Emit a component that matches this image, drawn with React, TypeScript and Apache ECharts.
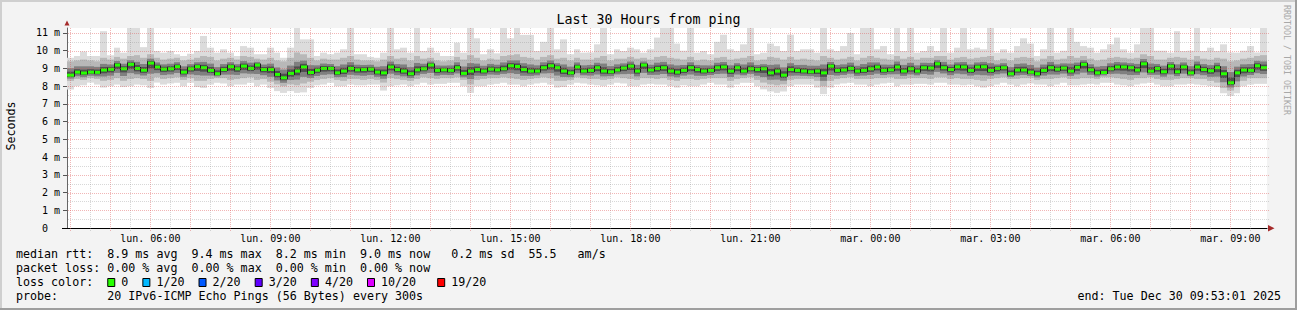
import React, { useEffect, useRef } from "react";
import * as echarts from "echarts";

// ---------- data ----------
const START_MIN = 235; // minutes after Monday 00:00 (left edge of the plot)
const STEP_MIN = 10; // minutes per consolidated sample
const SPAN_MIN = 1800; // 30 hours
const Y_MAX = 11.28;

// median rtt in ms (green step line)
const MEDIAN = [
  8.62, 8.79, 8.74, 8.79, 8.78, 8.91, 8.95, 9.19, 8.98, 9.23, 9.0, 8.9, 9.3, 9.08, 8.96, 8.98, 9.1, 8.79, 8.98, 9.1, 9.04, 8.89, 8.7, 8.94, 9.1, 8.98, 9.13, 9.0, 9.19, 8.94, 8.94, 8.66, 8.47, 8.72, 8.85, 9.08, 8.77, 8.9, 9.0, 9.0, 8.75, 8.85, 9.0, 8.92, 8.94,
  8.96, 8.79, 8.75, 9.08, 8.94, 8.85, 8.7, 8.92, 8.98, 9.19, 8.89, 8.92, 8.89, 9.04, 8.72, 8.85, 8.94, 8.85, 8.96, 8.92, 8.98, 9.15, 9.11, 8.94, 8.85, 8.85, 9.04, 9.15, 9.04, 8.85, 8.75, 9.08, 8.85, 8.89, 9.04, 8.85, 8.81, 8.91, 9.02, 9.13, 8.85, 9.19, 8.91, 9.0, 9.04,
  8.85, 8.79, 8.89, 9.04, 8.94, 8.85, 8.89, 9.04, 9.08, 8.85, 9.04, 8.85, 8.98, 8.94, 8.98, 8.75, 8.85, 8.62, 8.94, 8.89, 8.85, 8.81, 8.85, 8.75, 9.13, 8.89, 8.91, 9.0, 8.85, 8.89, 8.98, 9.08, 8.89, 8.92, 9.08, 8.85, 8.98, 8.85, 9.04, 9.02, 9.26, 9.04, 8.94, 9.09, 9.08,
  8.89, 9.08, 9.09, 8.89, 9.0, 9.04, 8.7, 8.91, 8.91, 8.79, 8.7, 8.89, 9.04, 8.96, 9.02, 8.85, 9.06, 9.23, 8.92, 8.75, 8.77, 8.98, 9.08, 9.08, 9.04, 8.91, 9.26, 8.85, 9.0, 8.81, 9.13, 8.81, 9.08, 8.75, 9.08, 8.94, 8.87, 9.04, 8.7, 8.19, 8.75, 8.91, 8.89, 9.15, 9.04,
];

// slowest ping of each sample (top of the light smoke)
const MAX = [
  9.6, 9.7, 9.95, 9.7, 9.7, 11.1, 9.74, 10.17, 9.89, 11.38, 11.38, 10.2, 11.38, 9.98, 9.89, 9.98, 9.8, 9.7, 9.83, 9.98, 10.83, 10.17, 9.89, 10.08, 9.89, 9.7, 10.26, 10.17, 9.8, 9.8, 10.17, 9.89, 9.6, 10.17, 11.38, 10.64, 10.64, 9.7, 9.89, 9.8, 9.89, 10.08, 11.38, 9.8, 9.8,
  9.65, 9.6, 9.89, 11.3, 10.08, 10.17, 9.89, 11.3, 9.98, 10.17, 9.89, 9.7, 9.7, 10.45, 9.89, 11.3, 10.7, 9.8, 10.08, 9.85, 11.3, 10.7, 11.3, 10.89, 10.89, 9.98, 10.5, 11.3, 10.08, 10.64, 9.8, 10.08, 9.89, 9.9, 10.36, 11.3, 9.8, 10.08, 9.98, 10.17, 10.08, 9.89, 10.08, 10.74, 11.3,
  11.3, 10.4, 10.0, 11.3, 9.89, 9.98, 9.8, 10.5, 10.9, 10.08, 9.98, 10.36, 11.3, 9.8, 9.89, 10.4, 10.26, 9.98, 10.9, 9.98, 10.08, 10.08, 9.89, 11.3, 10.08, 9.98, 10.26, 11.0, 9.8, 11.3, 11.3, 10.08, 10.26, 9.8, 11.3, 9.98, 11.3, 9.89, 9.98, 10.26, 9.98, 11.3, 9.89, 10.17, 11.3,
  10.08, 10.17, 10.08, 11.3, 9.89, 10.08, 9.89, 10.26, 10.7, 10.4, 9.7, 10.08, 11.3, 9.89, 10.0, 11.3, 10.5, 10.26, 10.17, 9.89, 10.08, 10.36, 10.74, 10.08, 9.89, 10.36, 11.3, 11.3, 10.0, 10.0, 9.89, 11.1, 9.98, 10.0, 11.3, 9.98, 10.17, 9.98, 10.36, 9.9, 9.89, 10.0, 10.26, 9.9, 11.3,
];

// upper edge of the medium smoke
const HI = [
  9.4, 9.45, 9.5, 9.45, 9.4, 9.6, 9.5, 9.65, 9.55, 9.7, 9.75, 9.6, 9.8, 9.6, 9.5, 9.55, 9.6, 9.45, 9.5, 9.6, 9.7, 9.65, 9.45, 9.55, 9.6, 9.5, 9.7, 9.65, 9.55, 9.5, 9.6, 9.45, 9.4, 9.6, 9.9, 9.8, 9.6, 9.45, 9.55, 9.5, 9.5, 9.6, 9.7, 9.5, 9.45,
  9.45, 9.4, 9.5, 9.7, 9.55, 9.6, 9.45, 9.7, 9.55, 9.6, 9.45, 9.4, 9.45, 9.65, 9.5, 9.75, 9.6, 9.45, 9.55, 9.5, 9.7, 9.75, 9.8, 9.65, 9.6, 9.5, 9.65, 9.75, 9.55, 9.6, 9.45, 9.6, 9.5, 9.5, 9.6, 9.7, 9.45, 9.55, 9.55, 9.65, 9.55, 9.6, 9.5, 9.65, 9.7,
  9.6, 9.55, 9.5, 9.65, 9.45, 9.5, 9.45, 9.6, 9.65, 9.5, 9.55, 9.6, 9.7, 9.45, 9.5, 9.65, 9.6, 9.5, 9.65, 9.5, 9.55, 9.5, 9.45, 9.7, 9.6, 9.5, 9.55, 9.65, 9.45, 9.6, 9.7, 9.6, 9.55, 9.5, 9.7, 9.55, 9.65, 9.5, 9.6, 9.6, 9.7, 9.7, 9.5, 9.6, 9.65,
  9.55, 9.6, 9.65, 9.7, 9.45, 9.55, 9.45, 9.6, 9.65, 9.6, 9.4, 9.55, 9.7, 9.5, 9.55, 9.7, 9.6, 9.7, 9.55, 9.45, 9.5, 9.6, 9.65, 9.6, 9.55, 9.6, 9.8, 9.7, 9.5, 9.5, 9.6, 9.65, 9.6, 9.5, 9.7, 9.55, 9.5, 9.6, 9.55, 9.4, 9.45, 9.55, 9.6, 9.7, 9.75,
];

// lower edge of the medium smoke
const LO = [
  8.3, 8.4, 8.35, 8.45, 8.4, 8.3, 8.35, 8.45, 8.3, 8.4, 8.45, 8.4, 8.3, 8.5, 8.4, 8.45, 8.5, 8.35, 8.45, 8.3, 8.3, 8.4, 8.45, 8.45, 8.35, 8.4, 8.45, 8.5, 8.35, 8.4, 8.25, 8.1, 8.0, 8.1, 8.05, 8.15, 8.25, 8.35, 8.4, 8.45, 8.35, 8.3, 8.4, 8.4, 8.35,
  8.4, 8.35, 8.2, 8.45, 8.4, 8.35, 8.3, 8.4, 8.5, 8.45, 8.4, 8.45, 8.45, 8.5, 8.35, 8.1, 8.35, 8.4, 8.45, 8.45, 8.5, 8.45, 8.4, 8.35, 8.4, 8.45, 8.5, 8.45, 8.3, 8.3, 8.35, 8.5, 8.45, 8.4, 8.4, 8.35, 8.4, 8.5, 8.45, 8.4, 8.35, 8.45, 8.45, 8.4, 8.45,
  8.35, 8.3, 8.4, 8.4, 8.35, 8.4, 8.45, 8.45, 8.45, 8.3, 8.4, 8.45, 8.5, 8.35, 8.2, 8.1, 8.05, 8.1, 8.35, 8.4, 8.4, 8.4, 8.3, 8.0, 8.3, 8.4, 8.45, 8.5, 8.4, 8.4, 8.4, 8.45, 8.45, 8.5, 8.4, 8.4, 8.45, 8.45, 8.45, 8.4, 8.5, 8.5, 8.4, 8.45, 8.4,
  8.4, 8.35, 8.3, 8.4, 8.45, 8.5, 8.4, 8.4, 8.45, 8.45, 8.35, 8.4, 8.4, 8.45, 8.5, 8.4, 8.4, 8.45, 8.45, 8.4, 8.5, 8.5, 8.45, 8.4, 8.35, 8.45, 8.45, 8.5, 8.4, 8.35, 8.35, 8.4, 8.45, 8.45, 8.4, 8.4, 8.3, 8.2, 7.9, 7.75, 7.95, 8.3, 8.45, 8.45, 8.45,
];

// fastest ping of each sample (bottom of the light smoke)
const MIN = [
  7.81, 8.0, 8.05, 8.2, 8.09, 7.92, 8.0, 8.09, 7.95, 8.0, 8.09, 8.05, 7.9, 8.2, 8.09, 8.15, 8.19, 8.0, 8.19, 7.95, 7.9, 8.09, 8.19, 8.15, 8.0, 8.09, 8.09, 8.19, 8.0, 8.09, 7.9, 7.72, 7.62, 7.72, 7.62, 7.65, 7.9, 8.05, 8.09, 8.19, 8.0, 8.0, 8.09, 8.05, 8.05,
  8.09, 8.09, 7.75, 8.0, 8.05, 8.09, 8.0, 8.09, 8.19, 8.09, 8.13, 8.13, 8.19, 8.19, 8.0, 7.62, 8.0, 8.0, 8.09, 8.13, 8.19, 8.09, 8.09, 8.0, 8.09, 8.15, 8.19, 8.09, 7.92, 7.95, 8.09, 8.19, 8.15, 8.09, 8.05, 8.0, 8.09, 8.19, 8.15, 8.0, 8.0, 8.09, 8.13, 8.09, 8.09,
  8.0, 7.92, 8.05, 8.0, 8.0, 8.09, 8.19, 8.09, 8.09, 7.92, 8.09, 8.19, 8.19, 8.0, 7.82, 7.7, 7.62, 7.7, 8.0, 8.09, 8.09, 8.09, 7.92, 7.55, 7.92, 8.09, 8.15, 8.19, 8.09, 8.09, 8.0, 8.09, 8.15, 8.19, 8.0, 8.09, 8.09, 8.13, 8.13, 8.09, 8.19, 8.19, 8.09, 8.09, 8.05,
  8.09, 8.0, 7.92, 8.0, 8.09, 8.19, 8.09, 8.0, 8.09, 8.15, 8.09, 8.09, 8.0, 8.09, 8.19, 8.05, 8.05, 8.09, 8.13, 8.09, 8.19, 8.19, 8.09, 8.05, 8.0, 8.09, 8.15, 8.19, 8.09, 8.0, 8.0, 8.09, 8.09, 8.13, 8.09, 8.05, 8.0, 7.95, 7.6, 7.45, 7.6, 8.0, 8.09, 8.13, 8.13,
];

// x tick labels (minutes after Monday 00:00)
const X_LABEL_MIN = [360, 540, 720, 900, 1080, 1260, 1440, 1620, 1800, 1980];
const X_LABELS = [
  "lun. 06:00", "lun. 09:00", "lun. 12:00", "lun. 15:00", "lun. 18:00",
  "lun. 21:00", "mar. 00:00", "mar. 03:00", "mar. 06:00", "mar. 09:00",
];
const Y_TICKS = [0, 1, 2, 3, 4, 5, 6, 7, 8, 9, 10, 11];

const TITLE = "Last 30 Hours from ping";
const Y_NAME = "Seconds";
const WATERMARK = "RRDTOOL / TOBI OETIKER";
const LEGEND_LINES = [
  "median rtt:  8.9 ms avg  9.4 ms max  8.2 ms min  9.0 ms now   0.2 ms sd  55.5   am/s",
  "packet loss: 0.00 % avg  0.00 % max  0.00 % min  0.00 % now",
  "loss color:",
  "probe:       20 IPv6-ICMP Echo Pings (56 Bytes) every 300s",
];
const LOSS_LABELS = ["0", "1/20", "2/20", "3/20", "4/20", "10/20", "19/20"];
const LOSS_COLORS = ["#26ff00", "#00b8ff", "#0059ff", "#5e00ff", "#7e00ff", "#dd00ff", "#ff0000"];
const LOSS_COLS = [15, 20, 28, 36, 44, 52, 62];
const END_TEXT = "end: Tue Dec 30 09:53:01 2025";

// ---------- styling ----------
const MONO = "'DejaVu Sans Mono', monospace";
const W = 1297;
const H = 310;
const GRID_LEFT = 67;
const GRID_TOP = 28;
const GRID_W = 1200;
const GRID_H = 200;
const LEG_X = 16;
const LEG_CW = 7.02;
const LEG_FS = 11.66;
const LEG_Y = [254.3, 268.3, 282.3, 296.3];
const MAJOR = "rgba(222,81,81,0.42)";
const MINOR = "rgba(143,143,143,0.35)";

function runs(line: string) {
  const out: { col: number; text: string }[] = [];
  const re = /\S+(?: \S+)*/g;
  let m: RegExpExecArray | null;
  while ((m = re.exec(line))) out.push({ col: m.index, text: m[0] });
  return out;
}

function textEl(text: string, x: number, y: number, size: number, opts: any = {}) {
  return {
    type: "text",
    x,
    y,
    rotation: opts.rotation || 0,
    silent: true,
    style: {
      text,
      fill: opts.fill || "#000",
      fontSize: size,
      fontFamily: MONO,
      align: opts.align || "left",
      textAlign: opts.align || "left",
      verticalAlign: "middle",
      textVerticalAlign: "middle",
    },
  };
}

function buildOption() {
  const smokeData = MEDIAN.map((m, i) => [START_MIN + i * STEP_MIN, MIN[i], LO[i], m, HI[i], MAX[i]]);
  const medianData = MEDIAN.map((m, i) => [START_MIN + i * STEP_MIN, m, i > 0 ? MEDIAN[i - 1] : m]);

  const gridData: number[][] = [];
  for (let t = 240; t < START_MIN + SPAN_MIN; t += 30) gridData.push([t, 0, 0, t % 60 === 0 ? 1 : 0]);
  for (let v = 0.5; v < Y_MAX; v += 0.5) gridData.push([START_MIN, v, 1, v % 1 === 0 ? 1 : 0]);

  const graphics: any[] = [
    { type: "rect", shape: { x: 0, y: 0, width: W, height: 2 }, style: { fill: "#cfcfcf" }, silent: true },
    { type: "rect", shape: { x: 0, y: 0, width: 2, height: H }, style: { fill: "#cfcfcf" }, silent: true },
    { type: "rect", shape: { x: 0, y: H - 2, width: W, height: 2 }, style: { fill: "#9e9e9e" }, silent: true },
    { type: "rect", shape: { x: W - 2, y: 0, width: 2, height: H }, style: { fill: "#9e9e9e" }, silent: true },
    { type: "line", shape: { x1: 62, y1: 228.5, x2: 67, y2: 228.5 }, style: { stroke: "#000", lineWidth: 1 }, silent: true, z: 10 },
    textEl(TITLE, 648.5, 19, 13.3, { align: "center" }),
    textEl(Y_NAME, 10.8, 126, LEG_FS, { align: "center", rotation: Math.PI / 2 }),
    textEl(WATERMARK, 1287.3, 60, 8.3, { align: "center", rotation: -Math.PI / 2, fill: "#a8a8a8" }),
    { type: "polygon", shape: { points: [[64.5, 25.5], [69.5, 25.5], [67, 20.5]] }, style: { fill: "#a52a2a" }, silent: true, z: 10 },
    { type: "polygon", shape: { points: [[1268, 225], [1268, 231.5], [1274.5, 228.3]] }, style: { fill: "#a52a2a" }, silent: true, z: 10 },
    textEl(END_TEXT, 1281, LEG_Y[3], LEG_FS, { align: "right" }),
  ];
  LEGEND_LINES.forEach((line, li) => {
    runs(line).forEach((r) => graphics.push(textEl(r.text, LEG_X + r.col * LEG_CW, LEG_Y[li], LEG_FS)));
  });
  LOSS_LABELS.forEach((lab, k) => {
    const col = LOSS_COLS[k];
    graphics.push({
      type: "rect",
      shape: { x: LEG_X + (col - 2) * LEG_CW + 0.5, y: 278.5, width: 7, height: 8 },
      style: { fill: LOSS_COLORS[k], stroke: "#000", lineWidth: 1 },
      silent: true,
    });
    graphics.push(textEl(lab, LEG_X + col * LEG_CW, LEG_Y[2], LEG_FS));
  });

  const xCoord = (api: any, t: number) => Math.round(api.coord([t, 0])[0]);

  return {
    animation: false,
    backgroundColor: "#f3f3f3",
    grid: {
      left: GRID_LEFT,
      top: GRID_TOP,
      width: GRID_W,
      height: GRID_H,
      show: true,
      backgroundColor: "#ffffff",
      borderWidth: 0,
    },
    xAxis: {
      type: "value",
      min: START_MIN,
      max: START_MIN + SPAN_MIN,
      axisLine: { show: true, lineStyle: { color: "#000", width: 1 } },
      axisTick: { show: false },
      splitLine: { show: false },
      axisLabel: {
        customValues: X_LABEL_MIN,
        formatter: (v: number) => {
          const k = X_LABEL_MIN.indexOf(Math.round(v));
          return k >= 0 ? X_LABELS[k] : "";
        },
        fontFamily: MONO,
        fontSize: 10,
        color: "#000",
        margin: 5,
      },
    },
    yAxis: {
      type: "value",
      min: 0,
      max: Y_MAX,
      axisLine: { show: true, lineStyle: { color: "#666", width: 1 } },
      axisTick: { show: true, customValues: Y_TICKS, length: 4, lineStyle: { color: "#555" } },
      splitLine: { show: false },
      axisLabel: {
        customValues: Y_TICKS,
        formatter: (v: number) => (v === 0 ? "{z|0}" : `${v} m`),
        rich: { z: { padding: [0, 12, 0, 0], fontFamily: MONO, fontSize: 10, color: "#000" } },
        fontFamily: MONO,
        fontSize: 10,
        color: "#000",
        margin: 7,
      },
    },
    graphic: graphics,
    series: [
      {
        type: "custom",
        name: "smoke",
        clip: true,
        z: 2,
        silent: true,
        encode: { x: 0, y: [1, 5] },
        data: smokeData,
        renderItem: (params: any, api: any) => {
          const t = api.value(0);
          const xa = xCoord(api, t);
          const xb = xCoord(api, t + STEP_MIN);
          const w = xb - xa;
          const mn = api.value(1), lo = api.value(2), md = api.value(3), hi = api.value(4), mx = api.value(5);
          const y = (v: number) => api.coord([t, v])[1];
          const band = (a: number, b: number, fill: string) => ({
            type: "rect",
            shape: { x: xa, y: y(b), width: w, height: y(a) - y(b) },
            style: { fill },
          });
          return {
            type: "group",
            children: [
              band(mn, mx, "#dcdcdc"),
              band(lo, hi, "#b8b8b8"),
              band(md - (md - lo) * 0.6, md + (hi - md) * 0.5, "#808080"),
              band(md - (md - lo) * 0.3, md + (hi - md) * 0.25, "#4e4e4e"),
            ],
          };
        },
      },
      {
        type: "custom",
        name: "median",
        clip: true,
        z: 3,
        silent: true,
        encode: { x: 0, y: 1 },
        data: medianData,
        renderItem: (params: any, api: any) => {
          const t = api.value(0);
          const xa = xCoord(api, t);
          const xb = xCoord(api, t + STEP_MIN);
          const ym = api.coord([t, api.value(1)])[1];
          const yp = api.coord([t, api.value(2)])[1];
          return {
            type: "group",
            children: [
              {
                type: "rect",
                shape: { x: xa, y: Math.min(ym, yp) - 1.5, width: 1, height: Math.abs(ym - yp) + 3 },
                style: { fill: "#1e1e1e" },
              },
              {
                type: "rect",
                shape: { x: xa + (params.dataIndex > 0 ? 1 : 0), y: ym - 1.5, width: xb - xa - (params.dataIndex > 0 ? 1 : 0), height: 3 },
                style: { fill: "#26ff00" },
              },
            ],
          };
        },
      },
      {
        type: "custom",
        name: "grid",
        clip: false,
        z: 4,
        silent: true,
        encode: { x: 0, y: 1 },
        data: gridData,
        renderItem: (params: any, api: any) => {
          const cs = params.coordSys;
          const stroke = api.value(3) === 1 ? MAJOR : MINOR;
          if (api.value(2) === 0) {
            const x = Math.round(api.coord([api.value(0), 0])[0]) + 0.5;
            return {
              type: "line",
              shape: { x1: x, y1: cs.y, x2: x, y2: cs.y + cs.height + 3 },
              style: { stroke, lineWidth: 1, lineDash: [1, 1] },
            };
          }
          const yy = Math.round(api.coord([START_MIN, api.value(1)])[1]) + 0.5;
          return {
            type: "line",
            shape: { x1: cs.x + 1, y1: yy, x2: cs.x + cs.width + 3, y2: yy },
            style: { stroke, lineWidth: 1, lineDash: [1, 1] },
          };
        },
      },
    ],
  };
}

export default function App() {
  const ref = useRef<HTMLDivElement>(null);
  useEffect(() => {
    const chart = echarts.init(ref.current!, null, { renderer: "svg", width: W, height: H });
    chart.setOption(buildOption() as any);
    return () => chart.dispose();
  }, []);
  return <div ref={ref} style={{ position: "fixed", left: 0, top: 0, width: W, height: H }} />;
}
